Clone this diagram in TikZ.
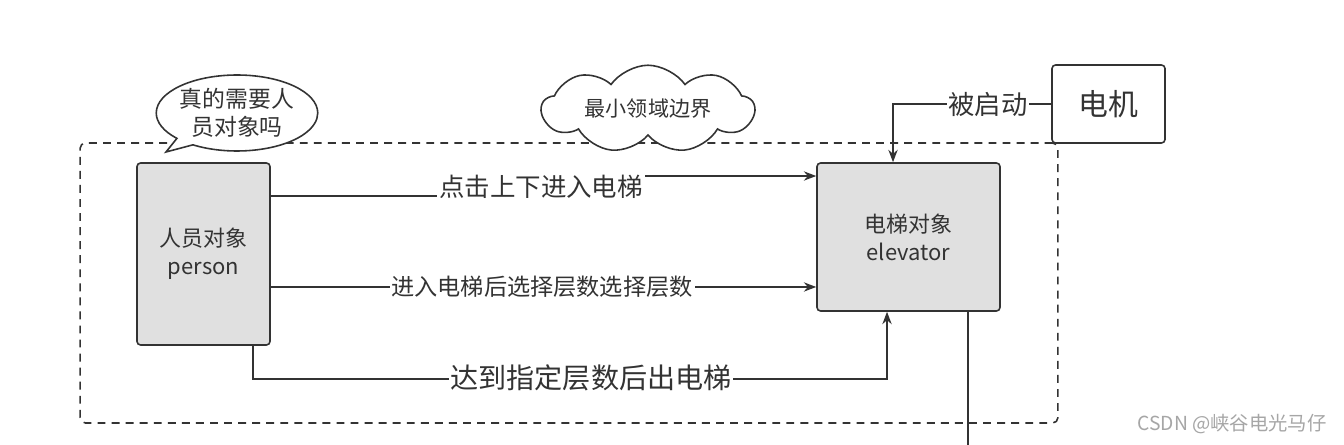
\documentclass[tikz,border=0pt]{standalone}
\usepackage{fontspec}
\setmainfont{Noto Sans CJK SC}
\usepackage{tikz}
\usetikzlibrary{positioning, arrows.meta, shapes.callouts, shapes.symbols, calc}
\definecolor{ink}{HTML}{333333}
\definecolor{boxgray}{HTML}{E0E0E0}

\begin{document}
\begin{tikzpicture}[x=0.02cm, y=-0.02cm, >=Stealth, line width=0.9pt, draw=ink, text=ink,
  obj/.style={draw=ink, fill=boxgray, rounded corners=2pt, align=center, font=\fontsize{12.5}{16}\selectfont},
  lbl/.style={fill=white, inner sep=1pt},
  conn/.style={->, draw=ink, line width=0.9pt}]
  \useasboundingbox[fill=white] (0,0) rectangle (1344,445);
  % domain boundary
  \node[draw=ink, dash pattern=on 4.5pt off 3.5pt, rounded corners=3pt, minimum width=19.56cm, minimum height=5.6cm] (domain) at (569,283) {};
  \node[obj, minimum width=2.66cm, minimum height=3.64cm] (person) at (203.5,254) {人员对象\\person};
  \node[obj, minimum width=3.66cm, minimum height=2.96cm] (elev) at (908.5,237) {电梯对象\\elevator};
  \node[draw=ink, fill=white, rounded corners=2pt, minimum width=2.26cm, minimum height=1.56cm, font=\fontsize{17}{20}\selectfont] (motor) at (1108.5,104) {电机};
  \node[ellipse callout, draw=ink, fill=white, minimum width=2.92cm, minimum height=1.52cm, inner sep=0pt, align=center,
        callout absolute pointer={(166,152)}, font=\fontsize{13}{16}\selectfont] (ask) at (237,113) {真的需要人\\员对象吗};
  \node[cloud, cloud puffs=9, cloud puff arc=110, cloud ignores aspect, draw=ink, fill=white, minimum width=4.25cm, minimum height=1.75cm,
        inner sep=0pt, font=\fontsize{12}{14}\selectfont] (bound) at (648,109) {最小领域边界};
  \coordinate (down) at (968,445);

  \draw[conn] ([yshift=1.16cm]person.east) -- ++(271,0) |- ([yshift=1.22cm]elev.west);
  \draw[conn] ([yshift=-0.66cm]person.east) -- ([yshift=-1.0cm]elev.west);
  \draw[conn] ([xshift=0.99cm]person.south) -- ++(0,33) -| ([xshift=-0.43cm]elev.south);
  \draw[conn] (motor.west) -| ([xshift=-0.31cm]elev.north);
  \draw (elev.south -| down) -- (down);

  \node[lbl, font=\fontsize{14.5}{16}\selectfont] (l1) at (541,187) {点击上下进入电梯};
  \node[lbl, font=\fontsize{13.2}{15}\selectfont] (l2) at (542,287) {进入电梯后选择层数选择层数};
  \node[lbl, font=\fontsize{16}{18}\selectfont] (l3) at (591,378) {达到指定层数后出电梯};
  \node[lbl, font=\fontsize{15}{17}\selectfont] (l4) at (988,105) {被启动};
  \node[text=gray!70, font=\fontsize{11}{13}\selectfont] (mark) at (1232,424) {CSDN @峡谷电光马仔};
\end{tikzpicture}
\end{document}
